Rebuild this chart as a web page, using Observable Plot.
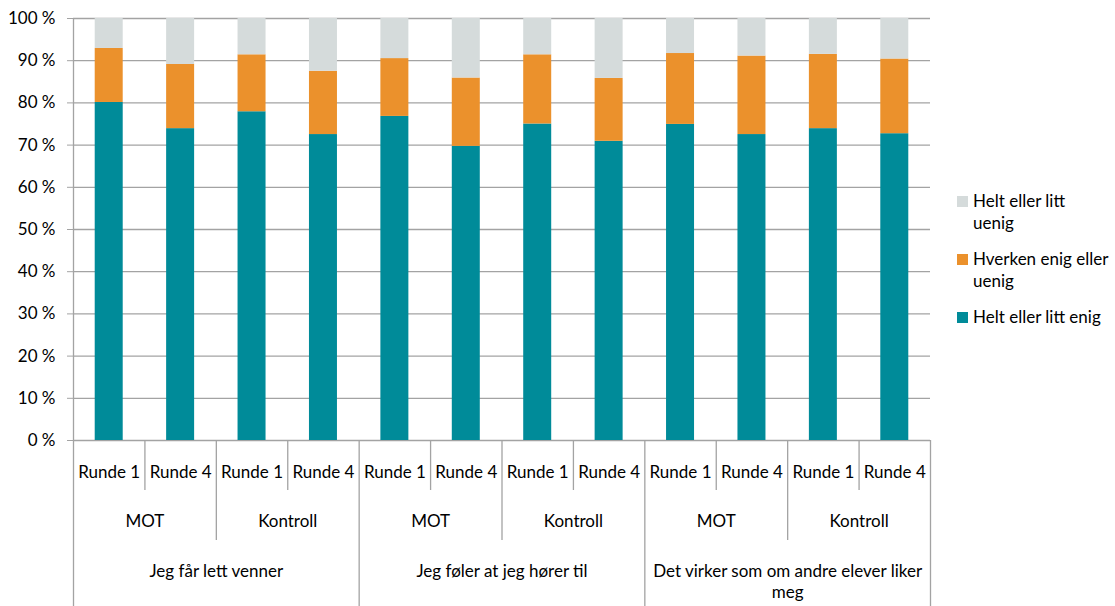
<!DOCTYPE html>
<html><head><meta charset="utf-8">
<script src="https://cdn.jsdelivr.net/npm/d3@7"></script>
<script src="https://cdn.jsdelivr.net/npm/@observablehq/plot@0.6"></script>
<style>
body{margin:0;background:#fff;font-family:Lato, "Open Sans", sans-serif;}
#wrap{position:relative;width:1115px;height:606px;}
#legend{position:absolute;left:957px;top:190px;font-size:17px;color:#000;font-family:Lato, sans-serif}
.item{display:flex;align-items:flex-start;margin-bottom:14px;line-height:22px}
.sw{width:11px;height:11px;margin-top:6px;margin-right:5px;flex:none}
</style></head><body><div id="wrap"><div id="legend"></div></div>
<script>
const questions = ["Jeg får lett venner", "Jeg føler at jeg hører til", "Det virker som om andre elever liker\nmeg"];
const groups = ["MOT", "Kontroll"];
const rounds = ["Runde 1", "Runde 4"];
const seriesNames = ["Helt eller litt enig", "Hverken enig eller uenig", "Helt eller litt uenig"];
const seriesColors = ["#008b99", "#eb912c", "#d5dbdb"];
const legendLabels = ["Helt eller litt enig", "Hverken enig eller<br>uenig", "Helt eller litt<br>uenig"];
const enig    = [80.1, 73.9, 77.9, 72.5, 76.8, 69.7, 75.0, 70.9, 74.9, 72.5, 73.9, 72.7];
const hverken = [12.8, 15.2, 13.5, 15.0, 13.7, 16.2, 16.4, 14.9, 16.8, 18.6, 17.6, 17.7];
const uenig   = [ 7.1, 10.9,  8.6, 12.5,  9.5, 14.1,  8.6, 14.2,  8.3,  8.9,  8.5,  9.6];
const yTicks = [0, 10, 20, 30, 40, 50, 60, 70, 80, 90, 100];

const bars = [];
questions.forEach(q => groups.forEach(g => rounds.forEach(r => bars.push({i: bars.length, q, g, r}))));
const table = [];
bars.forEach((b, k) => [enig, hverken, uenig].forEach((arr, s) => table.push({i: k, series: seriesNames[s], value: arr[k]})));

const groupLabels = d3.flatGroup(bars, d => d.q, d => d.g).map(([q, g, arr]) => ({g, x: d3.mean(arr, d => d.i)}));
const questionLabels = d3.flatGroup(bars, d => d.q).map(([q, arr]) => ({q, x: d3.mean(arr, d => d.i)}));

// boundaries between bars
const bounds = [];
for (let k = -1; k < bars.length; k++) {
  const a = bars[k], b = bars[k + 1];
  let level;
  if (!a || !b || a.q !== b.q) level = 3;
  else if (a.g !== b.g) level = 2;
  else level = 1;
  bounds.push({x: k + 0.5, level});
}
const grid = "#a3a3a3";
const half = 0.196;

const chart = Plot.plot({
  width: 1115, height: 606,
  marginLeft: 73, marginRight: 185, marginTop: 18, marginBottom: 166,
  style: {fontFamily: "Lato, sans-serif", fontSize: "17px", color: "#000", background: "#fff"},
  x: {domain: [-0.5, bars.length - 0.5], axis: null},
  y: {domain: [0, 100], axis: null},
  color: {domain: seriesNames, range: seriesColors},
  marks: [
    Plot.ruleY(yTicks, {stroke: grid, strokeWidth: 1.3}),
    Plot.rectY(table, Plot.stackY({x1: d => d.i - half, x2: d => d.i + half, y: "value", fill: "series"})),
    Plot.axisY({ticks: yTicks, tickFormat: d => `${d}\u00a0%`, tickSize: 6, tickPadding: 12, stroke: grid, fill: "#000", fontSize: 17, label: null}),
    Plot.ruleX([-0.5], {stroke: grid, strokeWidth: 1.3}),
    Plot.ruleX(bounds.filter(d => d.level === 1), {x: "x", y1: 0, y2: 0, insetBottom: -50, stroke: grid, strokeWidth: 1.3}),
    Plot.ruleX(bounds.filter(d => d.level === 2), {x: "x", y1: 0, y2: 0, insetBottom: -100, stroke: grid, strokeWidth: 1.3}),
    Plot.ruleX(bounds.filter(d => d.level === 3), {x: "x", y1: 0, y2: 0, insetBottom: -166, stroke: grid, strokeWidth: 1.3}),
    Plot.text(bars, {x: "i", frameAnchor: "bottom", text: "r", dy: 37, fontSize: 17, fill: "#000"}),
    Plot.text(groupLabels, {x: "x", frameAnchor: "bottom", text: "g", dy: 86, fontSize: 17, fill: "#000"}),
    Plot.text(questionLabels, {x: "x", frameAnchor: "bottom", text: "q", dy: 121, lineAnchor: "top", lineHeight: 1.25, fontSize: 17, fill: "#000"})
  ]
});
document.getElementById("wrap").prepend(chart);

const legend = document.getElementById("legend");
[2, 1, 0].forEach(s => {
  const it = document.createElement("div");
  it.className = "item";
  it.innerHTML = `<div class="sw" style="background:${seriesColors[s]}"></div><div>${legendLabels[s]}</div>`;
  legend.appendChild(it);
});
</script>
</body></html>
